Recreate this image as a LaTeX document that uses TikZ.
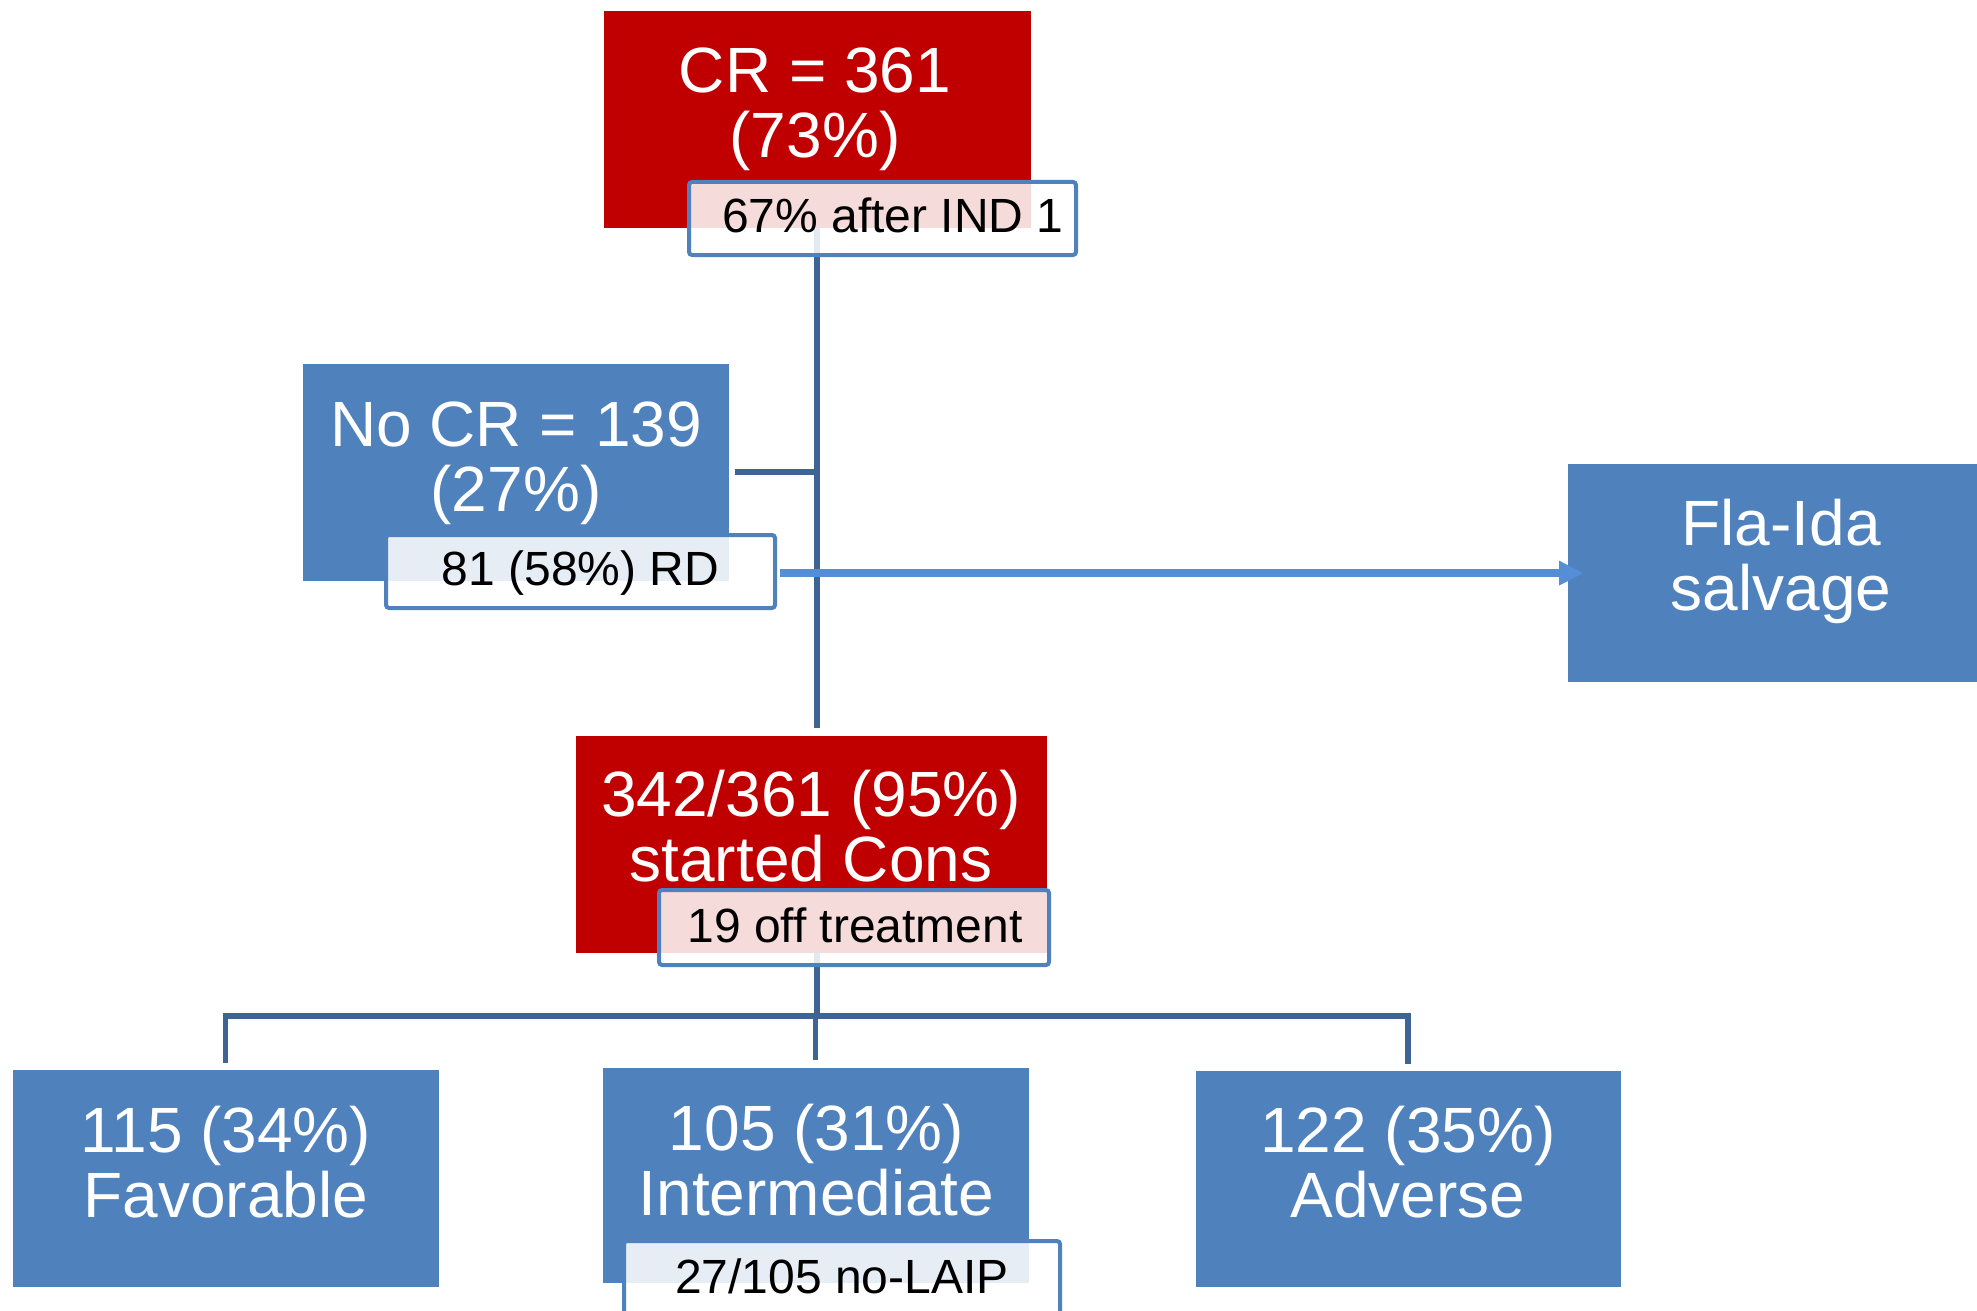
\documentclass[tikz,border=0pt]{standalone}
\usepackage{fontspec}
\setmainfont{Liberation Sans}
\usetikzlibrary{arrows.meta}
\definecolor{boxred}{RGB}{192,0,0}
\definecolor{boxblue}{RGB}{79,129,189}
\definecolor{connblue}{RGB}{62,100,150}
\definecolor{arrowblue}{RGB}{85,142,213}
\begin{document}
\begin{tikzpicture}[x=0.5pt,y=-0.5pt,
 box/.style={rectangle, inner sep=0pt, outer sep=0pt, draw=white, line width=0.4pt},
 redbox/.style={box, fill=boxred},
 bluebox/.style={box, fill=boxblue},
 labbox/.style={rectangle, inner sep=0pt, outer sep=0pt, draw=boxblue, line width=2pt, fill=white, fill opacity=0.86, rounded corners=1.5pt},
 bigtxt/.style={text=white, align=center, inner sep=0pt, font=\fontsize{32}{32.5}\selectfont},
 smalltxt/.style={text=black, inner sep=0pt, anchor=base, font=\fontsize{24}{26}\selectfont},
 conn/.style={draw=connblue, line width=2.8pt},
 arr/.style={draw=arrowblue, line width=4pt, -{Triangle[length=12.5pt,width=11.5pt]}}
]
\useasboundingbox (0,0) rectangle (1977,1311);
\clip (0,0) rectangle (1977,1311);

% main boxes
\node[redbox, minimum width=214pt, minimum height=109pt] (cr) at (817,119) {};
\node[bluebox, minimum width=213.5pt, minimum height=109pt] (nocr) at (515.5,472) {};
\node[bluebox, minimum width=214pt, minimum height=109.5pt] (fla) at (1781,572.5) {};
\node[redbox, minimum width=236pt, minimum height=109pt] (cons) at (811,844) {};
\node[bluebox, minimum width=213.5pt, minimum height=109pt] (fav) at (225.5,1178) {};
\node[bluebox, minimum width=213.5pt, minimum height=108pt] (inter) at (815.5,1175) {};
\node[bluebox, minimum width=213pt, minimum height=108.5pt] (adv) at (1408,1178.5) {};
\coordinate (jn) at (817,1016);

% connectors
\draw[conn, shorten >=3.5pt] (cr.south) -- (cr.south |- cons.north);
\draw[conn, shorten <=3pt] (nocr.east) -- (nocr.east -| cr.south);
\draw[conn] (cons.south -| jn) -- (jn);
\draw[conn, shorten <=3pt, shorten >=3pt] (fav.north) -- (fav.north |- jn) -- (adv.north |- jn) -- (adv.north);
\draw[conn, shorten <=3.5pt] (inter.north) -- (inter.north |- jn);

% sub-labels
\node[labbox, minimum width=193.5pt, minimum height=36.5pt] (crlab) at (882.5,218.5) {};
\node[labbox, minimum width=194.5pt, minimum height=36.5pt] (nocrlab) at (580.5,571.5) {};
\node[labbox, minimum width=195pt, minimum height=37.5pt] (conslab) at (854,927.5) {};
\node[labbox, minimum width=218pt, minimum height=36.5pt] (interlab) at (842,1277.5) {};

% arrow to salvage
\draw[arr, shorten <=2.5pt, shorten >=-8.5pt] ([yshift=-0.8pt]nocrlab.east) -- ([yshift=-0.8pt]nocrlab.east -| fla.west);

% texts
\node[bigtxt] (crt) at (815,109) {CR = 361\\(73\%)};
\node[bigtxt] (nocrt) at (516,463.5) {No CR = 139\\(27\%)};
\node[bigtxt] (flat) at (1781,561.5) {Fla-Ida\\salvage};
\node[bigtxt] (const) at (811,826) {342/361 (95\%)\\started Cons};
\node[bigtxt] (favt) at (226,1162.5) {115 (34\%)\\Favorable};
\node[bigtxt] (intert) at (816.5,1160.5) {105 (31\%)\\Intermediate};
\node[bigtxt] (advt) at (1408,1162.5) {122 (35\%)\\Adverse};

\node[smalltxt] (crlabt) at (893,233) {67\% after IND 1};
\node[smalltxt] (nocrlabt) at (580.5,585) {81 (58\%) RD};
\node[smalltxt] (conslabt) at (855,942) {19 off treatment};
\node[smalltxt] (interlabt) at (842,1293) {27/105 no-LAIP};
\end{tikzpicture}
\end{document}
